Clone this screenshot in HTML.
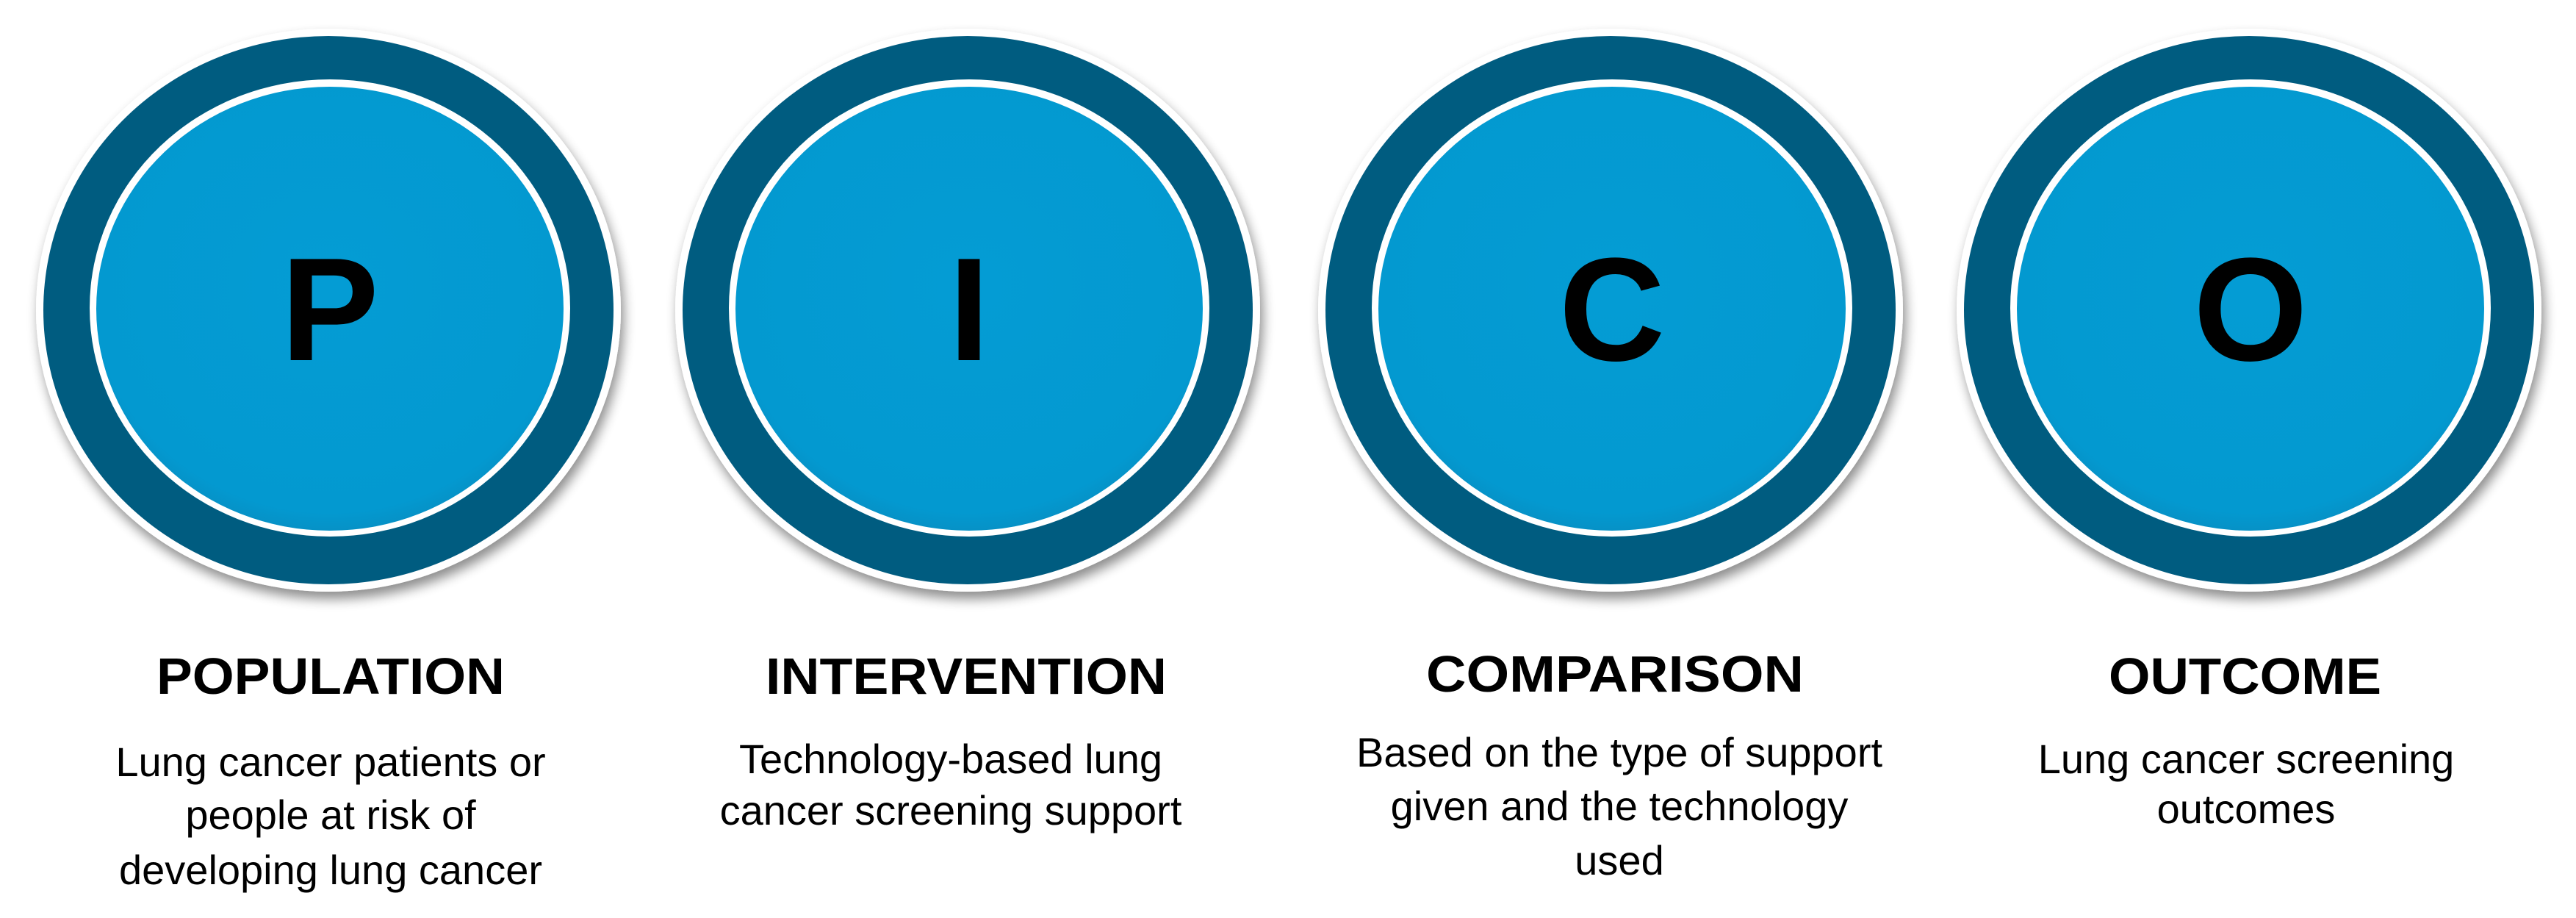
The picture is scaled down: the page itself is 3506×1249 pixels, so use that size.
<!DOCTYPE html>
<html><head><meta charset="utf-8"><style>
html,body{margin:0;padding:0;background:#fff;}
svg{display:block;}
text{font-family:"Liberation Sans",sans-serif;fill:#000;}
</style></head><body>
<svg width="3506" height="1249" viewBox="0 0 3506 1249" xmlns="http://www.w3.org/2000/svg">
<defs>
<filter id="sh" x="-10%" y="-10%" width="120%" height="125%">
<feGaussianBlur in="SourceAlpha" stdDeviation="8"/>
<feOffset dx="4" dy="10"/>
<feComponentTransfer><feFuncA type="linear" slope="0.45"/></feComponentTransfer>
<feMerge><feMergeNode/><feMergeNode in="SourceGraphic"/></feMerge>
</filter>
<radialGradient id="g1" cx="50%" cy="45%" r="60%">
<stop offset="0" stop-color="#049cd4"/><stop offset="0.85" stop-color="#0399d0"/><stop offset="1" stop-color="#0a88ba"/>
</radialGradient>
</defs>
<g id="c">
<g filter="url(#sh)">
<ellipse cx="447" cy="422" rx="398" ry="383" fill="#fff"/>
<ellipse cx="447" cy="422" rx="388" ry="373" fill="#045b80"/>
</g>
<ellipse cx="449" cy="419" rx="327" ry="311" fill="#fff"/>
<ellipse cx="449" cy="420" rx="318" ry="302" fill="url(#g1)"/>
</g>
<use href="#c" x="870"/>
<use href="#c" x="1745"/>
<use href="#c" x="2614"/>
<g font-weight="bold" font-size="200" text-anchor="middle">
<text x="449" y="490">P</text>
<text x="1319" y="490">I</text>
<text x="2194" y="490">C</text>
<text x="3063" y="490">O</text>
</g>
<g font-weight="bold" font-size="70">
<text x="213" y="944" textLength="474" lengthAdjust="spacingAndGlyphs">POPULATION</text>
<text x="1042" y="944" textLength="546" lengthAdjust="spacingAndGlyphs">INTERVENTION</text>
<text x="1941" y="941" textLength="514" lengthAdjust="spacingAndGlyphs">COMPARISON</text>
<text x="2870" y="944" textLength="371" lengthAdjust="spacingAndGlyphs">OUTCOME</text>
</g>
<g font-size="56" text-anchor="middle" fill="#111">
<text x="450" y="1056">Lung cancer patients or</text>
<text x="450" y="1128">people at risk of</text>
<text x="450" y="1203">developing lung cancer</text>
<text x="1294" y="1052">Technology-based lung</text>
<text x="1294" y="1122">cancer screening support</text>
<text x="2204" y="1043">Based on the type of support</text>
<text x="2204" y="1116">given and the technology</text>
<text x="2204" y="1190">used</text>
<text x="3057" y="1052">Lung cancer screening</text>
<text x="3057" y="1120">outcomes</text>
</g>
</svg>
</body></html>
